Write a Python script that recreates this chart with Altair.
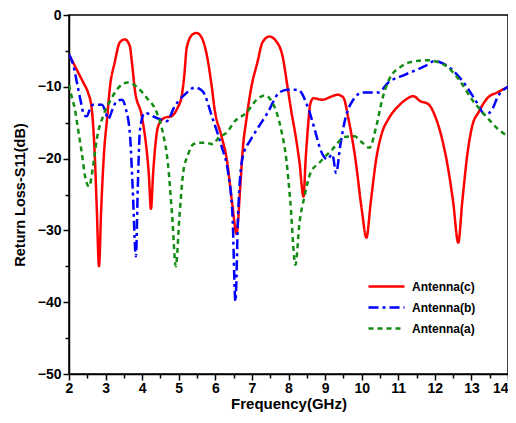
import altair as alt
import pandas as pd

series_names = ["Antenna(c)", "Antenna(b)", "Antenna(a)"]
series_colors = ["#ff0000", "#0000ff", "#148c14"]
series_dashes = [[1, 0], [10, 4, 3, 4], [5, 4]]

c_freq = [2.0, 2.15, 2.3, 2.4, 2.52, 2.62, 2.7, 2.76, 2.82, 2.88, 2.96, 3.04, 3.12, 3.25, 3.39, 3.53,
          3.66, 3.72, 3.8, 3.99, 4.12, 4.18, 4.24, 4.3, 4.4, 4.48, 4.62, 4.8, 4.97, 5.08, 5.15, 5.22,
          5.38, 5.49, 5.65, 5.79, 5.9, 5.98, 6.17, 6.31, 6.47, 6.58, 6.68, 6.75, 6.85, 6.99, 7.15,
          7.29, 7.48, 7.67, 7.84, 7.97, 8.08, 8.2, 8.3, 8.41, 8.47, 8.52, 8.6, 8.68, 8.93, 9.15, 9.34,
          9.5, 9.64, 9.83, 10.0, 10.13, 10.25, 10.4, 10.55, 10.73, 11.0, 11.2, 11.41, 11.6, 11.82,
          12.0, 12.2, 12.35, 12.5, 12.64, 12.75, 12.9, 13.02, 13.2, 13.45, 13.7, 14.0]
c_s11 = [-5.5, -7.0, -8.5, -9.5, -10.8, -13, -19, -27, -35, -27, -19, -14.5, -10, -6.6, -3.8, -3.4,
         -4.3, -6.6, -10.4, -14.1, -18.7, -22, -27, -22, -16.4, -15, -14.3, -14.1, -12.9, -11.3, -8.5, -4.5,
         -2.7, -2.5, -3.4, -6.2, -9.9, -13.1, -16.9, -20, -26.6, -30.5, -24, -18.7, -14.5, -9.9, -6.6,
         -3.8, -3.0, -3.7, -5.8, -9.9, -13.5, -17, -20.5, -25.3, -20, -16.4, -12.3, -11.6, -11.8, -11.4, -11.1,
         -11.5, -14.5, -20.1, -27, -31, -26, -20, -16.5, -14.5, -12.7, -11.8, -11.3, -12, -12.4,
         -14, -17.3, -21, -26, -31.7, -26, -19, -15.5, -13.5, -11.5, -10.8, -10]

b_freq = [2.0, 2.12, 2.22, 2.32, 2.42, 2.49, 2.58, 2.66, 2.9, 3.0, 3.07, 3.2, 3.3, 3.45, 3.55, 3.67,
          3.74, 3.83, 3.88, 3.94, 4.07, 4.29, 4.48, 4.67, 4.89, 5.16, 5.44, 5.65, 5.93, 6.17, 6.35,
          6.47, 6.55, 6.62, 6.75, 6.95, 7.13, 7.43, 7.75, 7.97, 8.25, 8.52, 8.72, 8.87, 9.06, 9.2,
          9.3, 9.42, 9.55, 9.77, 10.02, 10.45, 10.73, 11.19, 11.74, 12.0, 12.2, 12.47, 12.83, 13.15,
          13.37, 13.56, 13.73, 14.0]
b_s11 = [-5.5, -7, -9.5, -12, -14, -14.1, -13, -12.5, -12.5, -13.5, -14.5, -13, -12, -11.8, -13, -16.9,
         -24, -33.6, -24, -16, -13.6, -14.1, -14.5, -14.8, -12.7, -11.1, -10.1, -10.6, -14.5, -18.3, -22,
         -28, -39.9, -28, -19.7, -17.5, -16, -13.6, -10.8, -10.4, -10.4, -12.7, -16, -18.7, -20.1, -19.4,
         -22, -18, -14.5, -11.8, -10.8, -10.8, -9.4, -8.3, -7.1, -6.4, -6.7, -7.6, -9.7, -12.2,
         -13.9, -13.2, -11.3, -10]

a_freq = [2.0, 2.08, 2.16, 2.25, 2.35, 2.44, 2.55, 2.66, 2.76, 2.93, 3.12, 3.34, 3.6, 3.85, 4.12,
          4.4, 4.57, 4.7, 4.82, 4.92, 5.02, 5.12, 5.25, 5.4, 5.57, 5.75, 5.93, 6.1, 6.31, 6.53, 6.85,
          7.13, 7.35, 7.56, 7.8, 7.94, 8.05, 8.19, 8.3, 8.44, 8.6, 8.84, 9.2, 9.53, 9.8, 10.02, 10.21,
          10.4, 10.56, 10.75, 11.1, 11.4, 11.8, 12.1, 12.31, 12.66, 13.02, 13.4, 13.75, 14.0]
a_s11 = [-9.7, -11.5, -13.1, -16, -19.2, -22.5, -23.9, -21, -17.3, -14.1, -12.0, -10.2, -9.4, -10, -11.5,
         -13.6, -16.5, -20.5, -28, -35, -28, -22, -19.5, -18, -17.8, -17.8, -18, -17, -16.4, -14.8, -13.6,
         -11.8, -11.2, -12.2, -16, -20.1, -26, -34.8, -29, -25.2, -22, -20.6, -18.7, -17, -16.9, -17.8, -18.5,
         -15.5, -11.8, -9, -7.1, -6.5, -6.3, -6.6, -7.1, -9, -11.8, -14.1, -16, -16.9]

x_ticks = [2 + 0.5 * i for i in range(25)]
y_ticks = [-50 + 5 * i for i in range(11)]

frames = []
for name, fx, fy in [("Antenna(c)", c_freq, c_s11), ("Antenna(b)", b_freq, b_s11), ("Antenna(a)", a_freq, a_s11)]:
    frames.append(pd.DataFrame({"freq": fx, "s11": fy, "series": name}))
df = pd.concat(frames, ignore_index=True)

FONT = "Liberation Sans"

legend_kw = dict(orient="none", legendX=310, legendY=264, title=None, padding=0,
                 symbolType="M-3,0H3", symbolSize=144, symbolStrokeWidth=2.5,
                 labelFont=FONT, labelFontSize=12, labelFontWeight="bold",
                 labelColor="black", labelOffset=18, rowPadding=7)

axis_kw = dict(labelFlush=False, labelOverlap=False, grid=False,
               labelFont=FONT, labelFontSize=14, labelFontWeight="bold", labelColor="black",
               titleFont=FONT, titleFontWeight="bold",
               titleColor="black", domainColor="black", domainWidth=1.5,
               tickColor="black", tickWidth=1.5)

chart = alt.Chart(df).mark_line(strokeWidth=2.5, interpolate="monotone", clip=True).encode(
    x=alt.X("freq:Q", scale=alt.Scale(domain=[2, 14], nice=False, zero=False),
            axis=alt.Axis(title="Frequency(GHz)", values=x_ticks,
                          labelExpr="datum.value % 1 === 0 ? format(datum.value, 'd') : ''",
                          labelAlign={"condition": {"test": "datum.value === 14", "value": "right"}, "value": "center"},
                          tickSize={"condition": {"test": "datum.value % 1 === 0", "value": 6}, "value": 4},
                          labelPadding=1, titleFontSize=15, titlePadding=1, **axis_kw)),
    y=alt.Y("s11:Q", scale=alt.Scale(domain=[-50, 0], nice=False),
            axis=alt.Axis(title="Return Loss-S11(dB)", values=y_ticks,
                          labelExpr="datum.value % 10 === 0 ? format(datum.value, 'd') : ''",
                          tickSize={"condition": {"test": "datum.value % 10 === 0", "value": 6}, "value": 4},
                          labelPadding=2, titleFontSize=14.5, titlePadding=10, **axis_kw)),
    color=alt.Color("series:N", scale=alt.Scale(domain=series_names, range=series_colors),
                    legend=alt.Legend(**legend_kw)),
    strokeDash=alt.StrokeDash("series:N", scale=alt.Scale(domain=series_names, range=series_dashes),
                              legend=alt.Legend(**legend_kw)),
).properties(
    width=439, height=359,
    autosize=alt.AutoSizeParams(type="none"),
    padding={"left": 61, "top": 7, "right": 0, "bottom": 41},
).configure_view(stroke="black", strokeWidth=1.5)

chart.save("out.html", embed_options={"renderer": "svg", "actions": False})
